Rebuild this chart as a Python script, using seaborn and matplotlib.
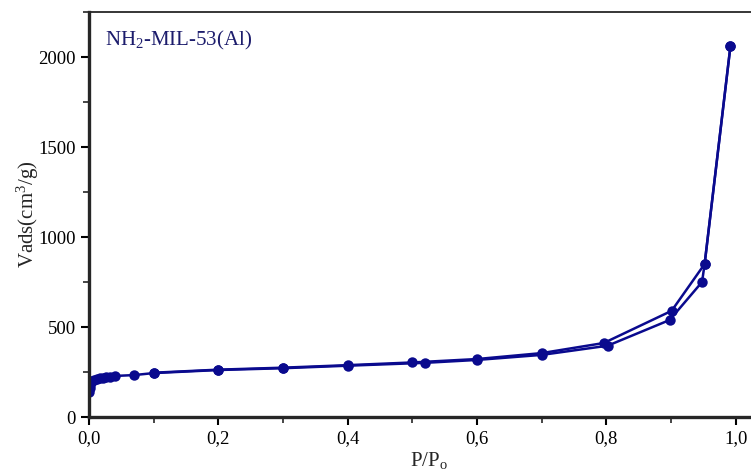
import pandas as pd
import matplotlib
matplotlib.use("Agg")
import matplotlib.pyplot as plt
import seaborn as sns
from matplotlib.ticker import MultipleLocator, FuncFormatter

# adsorption branch (P/P0, Vads)
ads_p = [0.0005, 0.001, 0.002, 0.003, 0.005, 0.008, 0.012, 0.017, 0.022, 0.027,
         0.033, 0.04, 0.07, 0.1, 0.2, 0.3, 0.4, 0.52, 0.6, 0.7, 0.802, 0.898,
         0.948, 0.952, 0.992]
ads_v = [140, 160, 180, 192, 200, 207, 212, 216, 219, 222,
         225, 228, 233, 244, 261, 271, 285, 301, 317, 345, 396, 539,
         750, 850, 2063]

# desorption branch
des_p = [0.992, 0.952, 0.901, 0.796, 0.7, 0.6, 0.5, 0.4, 0.3, 0.2, 0.1]
des_v = [2063, 850, 590, 411, 355, 322, 303, 288, 274, 263, 246]

df = pd.concat([
    pd.DataFrame({"p": ads_p, "v": ads_v, "branch": "ads"}),
    pd.DataFrame({"p": des_p, "v": des_v, "branch": "des"}),
])

sns.set_style("ticks")
plt.rcParams["font.family"] = ["Liberation Serif", "DejaVu Serif"]
plt.rcParams["mathtext.fontset"] = "custom"
plt.rcParams["mathtext.rm"] = "Liberation Serif"
plt.rcParams["mathtext.it"] = "Liberation Serif"

navy = "#0a0a8e"
fig = plt.figure(figsize=(7.51, 4.73), dpi=100)
ax = fig.add_axes([89 / 751, 56 / 473, 679 / 751, 405 / 473])

sns.lineplot(data=df, x="p", y="v", hue="branch", palette=[navy, navy],
             sort=False, estimator=None, marker="o", markersize=7.5,
             markeredgewidth=0, linewidth=1.8, legend=False, ax=ax)

ax.set_xlim(0, 1.05)
ax.set_ylim(0, 2250)
ax.xaxis.set_major_locator(MultipleLocator(0.2))
ax.xaxis.set_minor_locator(MultipleLocator(0.1))
ax.yaxis.set_major_locator(MultipleLocator(500))
ax.yaxis.set_minor_locator(MultipleLocator(250))
ax.xaxis.set_major_formatter(FuncFormatter(lambda v, _: f"{v:.1f}".replace(".", ",")))

ax.tick_params(which="major", direction="out", length=6, width=1.5, labelsize=13.5,
               colors="black")
ax.tick_params(which="minor", direction="out", length=4, width=1.2)

for side in ["left", "bottom"]:
    ax.spines[side].set_linewidth(2.4)
ax.spines["top"].set_linewidth(1.3)
ax.spines["right"].set_linewidth(1.3)

ax.set_xlabel("P/P$_\\mathrm{o}$", fontsize=15, labelpad=2)
ax.set_ylabel("Vads(cm$^3$/g)", fontsize=15, labelpad=-2)
ax.text(0.024, 0.93, "NH$_2$-MIL-53(Al)", transform=ax.transAxes,
        fontsize=15, color="#1c1c6c", va="center", ha="left")

fig.savefig("out.png", dpi=100)
